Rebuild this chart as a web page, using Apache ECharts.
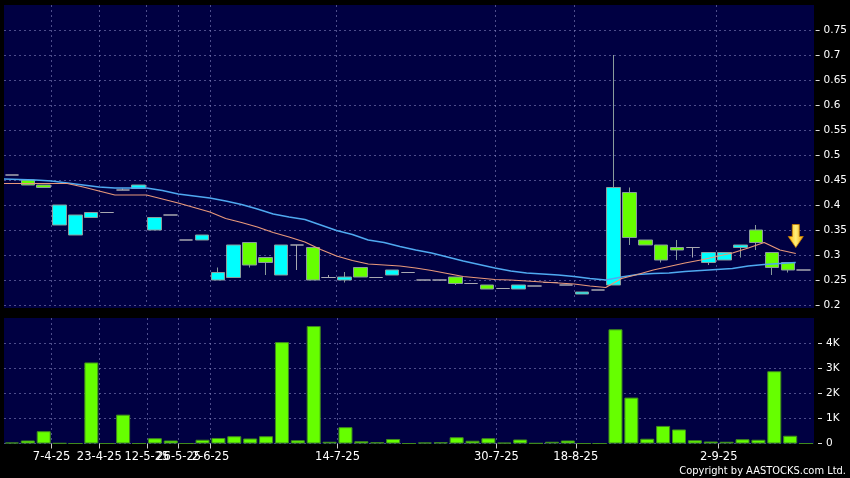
<!DOCTYPE html>
<html><head><meta charset="utf-8">
<script src="https://cdn.jsdelivr.net/npm/echarts@6/dist/echarts.min.js"></script>
<style>html,body{margin:0;padding:0;background:#000;}#c{width:850px;height:478px;}</style>
</head><body><div id="c"></div>
<script>
// candle slots (51 trading slots); each: [open, close, low, high]
const candles = [
[0.46,0.46,0.46,0.46],[0.45,0.44,0.44,0.45],[0.44,0.435,0.435,0.44],[0.36,0.40,0.36,0.40],[0.34,0.38,0.34,0.38],
[0.375,0.385,0.375,0.385],[0.385,0.385,0.385,0.385],[0.43,0.43,0.43,0.433],[0.433,0.44,0.433,0.44],[0.35,0.375,0.35,0.375],
[0.38,0.38,0.38,0.38],[0.33,0.33,0.33,0.33],[0.33,0.34,0.33,0.34],[0.25,0.265,0.25,0.275],[0.255,0.32,0.255,0.32],
[0.325,0.28,0.275,0.325],[0.295,0.285,0.26,0.295],[0.26,0.32,0.26,0.32],[0.32,0.32,0.27,0.32],[0.315,0.25,0.25,0.315],
[0.255,0.255,0.255,0.26],[0.25,0.256,0.245,0.266],[0.275,0.256,0.256,0.275],[0.255,0.255,0.255,0.255],[0.26,0.27,0.26,0.27],
[0.265,0.265,0.265,0.265],[0.25,0.25,0.25,0.25],[0.25,0.25,0.25,0.25],[0.256,0.243,0.24,0.256],[0.243,0.243,0.243,0.243],
[0.24,0.232,0.232,0.24],[0.233,0.233,0.233,0.233],[0.232,0.24,0.232,0.24],[0.238,0.238,0.238,0.238],[0.245,0.245,0.245,0.245],
[0.24,0.24,0.24,0.24],[0.222,0.226,0.222,0.226],[0.23,0.23,0.23,0.23],[0.24,0.435,0.24,0.70],[0.425,0.335,0.32,0.435],
[0.33,0.32,0.32,0.33],[0.32,0.29,0.285,0.32],[0.315,0.31,0.29,0.33],[0.315,0.315,0.295,0.315],[0.285,0.305,0.28,0.305],
[0.29,0.305,0.29,0.305],[0.315,0.32,0.295,0.32],[0.35,0.325,0.31,0.36],[0.305,0.275,0.26,0.305],[0.285,0.27,0.265,0.285],
[0.27,0.27,0.27,0.27]
];
const volumes = [40,120,490,10,0,3230,0,1150,0,210, 120,0,150,220,290,200,290,4040,130,4680,
 70,650,90,50,180,0,40,50,250,110, 210,30,160,10,70,120,0,0,4550,1830,
 190,700,560,130,80,70,170,150,2880,310, 0];
// moving averages, plotted at slot edges
const maLong = [0.452,0.451,0.45,0.448,0.444,0.44,0.436,0.434,0.434,0.434,
 0.429,0.422,0.418,0.414,0.408,0.401,0.392,0.382,0.376,0.371,
 0.36,0.349,0.341,0.33,0.325,0.317,0.31,0.304,0.296,0.288,
 0.281,0.274,0.268,0.264,0.262,0.26,0.257,0.253,0.25,0.256,
 0.261,0.263,0.264,0.267,0.269,0.271,0.273,0.278,0.281,0.283,0.285];
const maShort = [0.443,0.443,0.443,0.443,0.443,0.436,0.428,0.42,0.42,0.42,
 0.412,0.404,0.395,0.386,0.373,0.365,0.356,0.345,0.336,0.326,
 0.311,0.298,0.289,0.282,0.28,0.278,0.274,0.269,0.263,0.257,
 0.254,0.251,0.25,0.248,0.246,0.244,0.242,0.238,0.235,0.253,
 0.261,0.27,0.277,0.284,0.29,0.297,0.304,0.314,0.325,0.31,0.303];
const tickIndex = [3,6,9,11,13,21,31,36,45];
const tickLabels = ['7-4-25','23-4-25','12-5-25','26-5-25','2-6-25','14-7-25','30-7-25','18-8-25','2-9-25'];
const arrowAt = ['e50', 0.338];

const slotCats = candles.map((_, i) => 's' + i);
const edgeCats = Array.from({length: candles.length + 1}, (_, i) => 'e' + i);
const labelOf = {};
tickIndex.forEach((t, k) => { labelOf[t] = tickLabels[k]; });
const isTick = (i) => labelOf[i] !== undefined;

const gridLine = {show: true, lineStyle: {color: 'rgba(140,140,200,0.55)', type: [2, 3], width: 1}};
const chart = echarts.init(document.getElementById('c'));
chart.setOption({
  animation: false,
  backgroundColor: '#000',
  graphic: [
    {type: 'rect', z: -10, silent: true, shape: {x: 4, y: 5, width: 810, height: 303}, style: {fill: '#000042'}},
    {type: 'rect', z: -10, silent: true, shape: {x: 4, y: 318, width: 810, height: 126}, style: {fill: '#000042'}},
    {type: 'text', right: 4, bottom: 1, style: {text: 'Copyright by AASTOCKS.com Ltd.', fill: '#fff', font: '11px "DejaVu Sans Condensed"'}}
  ],
  grid: [
    {left: 4, right: 36, top: 5, height: 300},
    {left: 4, right: 36, top: 318, height: 125.5}
  ],
  xAxis: [
    {gridIndex: 0, type: 'category', position: 'bottom', data: slotCats, boundaryGap: true, show: false},
    {gridIndex: 0, type: 'category', position: 'bottom', data: edgeCats, boundaryGap: false,
     axisLine: {show: false}, axisTick: {show: false}, axisLabel: {show: false},
     splitLine: Object.assign({interval: (i) => isTick(i)}, gridLine)},
    {gridIndex: 1, type: 'category', position: 'bottom', data: slotCats, boundaryGap: true, show: false},
    {gridIndex: 1, type: 'category', position: 'bottom', data: edgeCats, boundaryGap: false,
     axisLine: {show: false},
     axisTick: {show: true, interval: (i) => isTick(i), length: 5, lineStyle: {color: '#ccc'}},
     axisLabel: {show: true, interval: (i) => isTick(i), formatter: (v, i) => labelOf[i] || '',
       color: '#fff', fontSize: 11.5, fontFamily: 'DejaVu Sans', margin: 8},
     splitLine: Object.assign({interval: (i) => isTick(i)}, gridLine)}
  ],
  yAxis: [
    {gridIndex: 0, type: 'value', position: 'right', min: 0.2, max: 0.8, interval: 0.05, offset: 4,
     axisLine: {show: false}, axisTick: {show: true, length: 4, lineStyle: {color: '#ddd'}},
     axisLabel: {color: '#fff', fontSize: 10.5, fontFamily: 'DejaVu Sans', margin: 8, showMaxLabel: false},
     splitLine: Object.assign({showMaxLine: false}, gridLine)},
    {gridIndex: 1, type: 'value', position: 'right', min: 0, max: 5000, interval: 1000, offset: 4,
     axisLine: {show: false}, axisTick: {show: true, length: 4, lineStyle: {color: '#ddd'}},
     axisLabel: {color: '#fff', fontSize: 10.5, fontFamily: 'DejaVu Sans', margin: 8, showMaxLabel: false,
       formatter: (v) => v === 0 ? '0' : (v / 1000) + 'K'},
     splitLine: Object.assign({showMaxLine: false}, gridLine)}
  ],
  series: [
    {type: 'candlestick', xAxisIndex: 0, yAxisIndex: 0, data: candles, barWidth: 14,
     itemStyle: {color: '#00ffff', color0: '#66ff00', borderColor: '#8a9c9c', borderColor0: '#8a9c9c',
       borderColorDoji: '#a8a8b0', borderWidth: 1}},
    {type: 'line', xAxisIndex: 1, yAxisIndex: 0, data: maLong, symbol: 'none',
     lineStyle: {color: '#4fa9f0', width: 1.5},
     markPoint: {silent: true, data: [{coord: arrowAt,
       symbol: 'path://M4,0 L11,0 L11,12 L15,12 L7.5,23 L0,12 L4,12 Z', symbolSize: [15, 23],
       itemStyle: {color: {type: 'linear', x: 0, y: 0, x2: 1, y2: 0, colorStops: [
         {offset: 0, color: '#ffb000'}, {offset: 0.5, color: '#fff07a'}, {offset: 1, color: '#f0a000'}]},
         borderColor: '#c88000', borderWidth: 0.8},
       label: {show: false}}]}},
    {type: 'line', xAxisIndex: 1, yAxisIndex: 0, data: maShort, symbol: 'none',
     lineStyle: {color: '#e8987a', width: 1.2}},
    {type: 'bar', xAxisIndex: 2, yAxisIndex: 1, data: volumes, barWidth: 14,
     itemStyle: {color: '#66ff00', borderColor: '#3f8a1e', borderWidth: 1}}
  ]
});
</script></body></html>
